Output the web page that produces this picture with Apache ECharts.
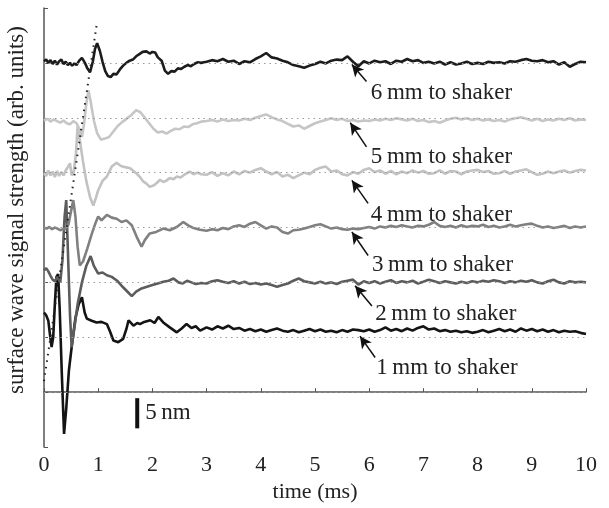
<!DOCTYPE html>
<html>
<head>
<meta charset="utf-8">
<script src="https://cdn.jsdelivr.net/npm/echarts@6/dist/echarts.min.js"></script>
<style>
  html, body { margin: 0; padding: 0; background: #fff; }
  #chart { width: 609px; height: 508px; }
</style>
</head>
<body>
<div id="chart"></div>
<script>
// trace names, vertical offsets (arb. units) and colours
const traceNames = ['1', '2', '3', '4', '5', '6']
const baselines = [1, 2, 3, 4, 5, 6]
const traceColors = ['#141414', '#5c5c5c', '#808080', '#c2c2c2', '#c6c6c6', '#1c1c1c']

// early part of each trace, [time ms, signal relative to its baseline]
const early1 = [[0,0.45],[0.04,0.4],[0.08,0.3],[0.11,0.05],[0.14,-0.18],[0.17,0.0],[0.2,0.6],[0.23,1.1],[0.26,1.15],[0.29,0.5],[0.33,-0.7],[0.37,-1.76],[0.41,-1.3],[0.46,-0.6],[0.52,-0.1],[0.58,0.35],[0.64,0.6],[0.7,0.73],[0.75,0.45],[0.79,0.34],[0.88,0.3],[0.97,0.27],[1.06,0.28],[1.16,0.24],[1.22,0.1],[1.28,-0.06],[1.37,-0.09],[1.46,-0.03],[1.52,0.15],[1.56,0.31],[1.65,0.21],[1.72,0.26],[1.77,0.24],[1.85,0.28],[1.96,0.31],[2.04,0.26],[2.11,0.37],[2.2,0.27],[2.32,0.18],[2.45,0.09],[2.54,0.16],[2.63,0.24],[2.72,0.17],[2.8,0.2],[2.88,0.12]]
const early2 = [[0,0.22],[0.04,0.26],[0.08,0.2],[0.12,0.12],[0.16,0.05],[0.2,0.02],[0.25,0.1],[0.3,0.0],[0.34,0.4],[0.38,1.2],[0.41,1.5],[0.44,0.6],[0.48,-0.6],[0.51,-1.18],[0.55,-0.9],[0.62,-0.4],[0.7,0.0],[0.78,0.3],[0.86,0.48],[0.92,0.3],[1.0,0.16],[1.08,0.18],[1.16,0.13],[1.25,0.1],[1.35,0.03],[1.45,-0.08],[1.55,-0.18],[1.62,-0.25],[1.7,-0.17],[1.8,-0.11],[1.9,-0.08],[2.0,-0.05],[2.1,-0.02],[2.2,0.01],[2.3,0.03],[2.39,0.07],[2.48,0.0],[2.56,-0.02],[2.64,0.03],[2.72,0.0],[2.8,-0.03],[2.9,-0.01]]
const early3 = [[0,0.0],[0.05,-0.02],[0.1,0.01],[0.15,-0.03],[0.2,0.0],[0.25,-0.02],[0.3,-0.05],[0.35,-0.03],[0.4,-0.02],[0.45,0.05],[0.5,0.3],[0.54,0.5],[0.58,0.2],[0.62,-0.35],[0.66,-0.69],[0.72,-0.62],[0.8,-0.38],[0.88,-0.12],[0.95,0.08],[1.0,0.2],[1.06,0.13],[1.16,0.23],[1.25,0.18],[1.34,0.16],[1.43,0.1],[1.52,0.13],[1.62,0.04],[1.71,-0.17],[1.8,-0.35],[1.86,-0.23],[1.95,-0.11],[2.07,-0.08],[2.2,-0.02],[2.32,-0.05],[2.45,0.01],[2.57,0.1],[2.66,0.04],[2.76,-0.01],[2.88,-0.04]]
const early4 = [[0,-0.01],[0.04,-0.06],[0.08,0.04],[0.12,-0.05],[0.16,0.02],[0.2,-0.08],[0.24,0.03],[0.28,-0.06],[0.32,0.01],[0.36,-0.05],[0.4,0.04],[0.44,0.1],[0.48,0.17],[0.51,-0.05],[0.55,0.02],[0.59,0.35],[0.62,0.85],[0.66,0.6],[0.72,0.2],[0.78,-0.15],[0.85,-0.45],[0.91,-0.6],[0.96,-0.45],[1.0,-0.32],[1.08,-0.15],[1.16,-0.07],[1.25,0.11],[1.34,0.18],[1.42,0.12],[1.5,0.1],[1.59,0.08],[1.7,-0.01],[1.77,-0.08],[1.83,-0.16],[1.89,-0.2],[1.95,-0.26],[2.03,-0.23],[2.09,-0.18],[2.14,-0.13],[2.2,-0.17],[2.25,-0.15],[2.32,-0.1],[2.39,-0.12],[2.45,-0.07],[2.52,-0.09],[2.6,-0.03],[2.69,0.02],[2.76,-0.03],[2.83,0.0],[2.9,-0.03]]
const early5 = [[0,-0.05],[0.06,-0.02],[0.12,-0.07],[0.18,-0.03],[0.24,-0.06],[0.3,-0.09],[0.36,-0.05],[0.42,-0.1],[0.48,-0.12],[0.54,-0.06],[0.6,-0.1],[0.65,-0.2],[0.7,-0.35],[0.74,-0.1],[0.78,0.25],[0.82,0.5],[0.86,0.3],[0.92,-0.05],[0.98,-0.28],[1.05,-0.4],[1.12,-0.38],[1.2,-0.35],[1.28,-0.25],[1.36,-0.15],[1.44,-0.08],[1.52,-0.02],[1.6,0.04],[1.7,0.14],[1.78,0.1],[1.86,0.0],[1.94,-0.1],[2.02,-0.2],[2.1,-0.27],[2.18,-0.25],[2.26,-0.29],[2.34,-0.24],[2.42,-0.2],[2.5,-0.21],[2.58,-0.16],[2.66,-0.17],[2.74,-0.12],[2.82,-0.1],[2.9,-0.07]]
const early6 = [[0,0.03],[0.04,0.06],[0.08,0.0],[0.12,0.05],[0.16,-0.02],[0.2,0.04],[0.24,-0.03],[0.28,0.03],[0.32,0.06],[0.36,-0.02],[0.4,0.02],[0.44,-0.04],[0.48,0.0],[0.52,-0.05],[0.56,-0.01],[0.6,-0.04],[0.65,0.04],[0.7,0.09],[0.75,0.01],[0.8,-0.1],[0.85,-0.17],[0.9,0.02],[0.94,0.25],[0.98,0.36],[1.03,0.22],[1.08,0.02],[1.13,-0.15],[1.18,-0.24],[1.23,-0.26],[1.28,-0.2],[1.34,-0.21],[1.4,-0.12],[1.46,-0.05],[1.52,0.0],[1.58,0.04],[1.64,0.06],[1.7,0.12],[1.76,0.16],[1.82,0.2],[1.89,0.21],[1.95,0.17],[2.0,0.2],[2.05,0.19],[2.1,0.1],[2.17,0.04],[2.23,-0.14],[2.29,-0.2],[2.35,-0.15],[2.41,-0.16],[2.47,-0.1],[2.53,-0.11],[2.59,-0.07],[2.65,-0.04],[2.71,-0.06],[2.77,-0.02],[2.83,0.01],[2.9,0.0]]

// later part, one value every 0.1 ms from 3.0 to 10.0 ms
const late1 = [0.18,0.14,0.2,0.16,0.21,0.15,0.17,0.12,0.15,0.11,
  0.14,0.1,0.13,0.16,0.12,0.1,0.13,0.09,0.12,0.15,
  0.11,0.14,0.1,0.12,0.09,0.13,0.1,0.14,0.13,0.11,
  0.14,0.1,0.13,0.18,0.12,0.15,0.11,0.16,0.12,0.17,
  0.2,0.14,0.16,0.11,0.13,0.1,0.12,0.09,0.11,0.08,
  0.1,0.13,0.09,0.12,0.15,0.11,0.14,0.1,0.16,0.12,
  0.15,0.11,0.14,0.1,0.13,0.09,0.12,0.1,0.11,0.08,
  0.06]
const late2 = [-0.02,0.02,0.04,0.01,-0.01,0.02,-0.02,0.01,-0.03,-0.01,
  -0.04,-0.02,-0.05,-0.08,-0.05,-0.02,0.03,0.07,0.02,0.0,
  -0.02,0.01,-0.02,0.0,-0.03,0.01,0.03,0.05,-0.04,0.02,
  -0.01,0.02,-0.02,0.01,0.04,-0.01,0.02,0.0,0.03,-0.02,
  0.01,0.05,0.02,-0.01,0.02,0.0,-0.02,0.01,-0.01,0.02,
  0.0,0.03,0.01,0.04,0.02,-0.01,0.02,0.0,0.03,0.01,
  0.04,0.0,-0.02,0.02,0.05,0.0,-0.02,0.02,0.0,0.01,
  0.0]
const late3 = [-0.06,-0.03,-0.05,-0.01,-0.03,0.02,0.04,0.01,0.07,0.1,
  0.04,-0.02,0.02,0.0,-0.08,-0.11,-0.05,-0.04,-0.02,0.01,
  0.04,0.06,0.02,-0.02,0.0,-0.03,-0.04,-0.02,-0.03,-0.01,
  0.01,-0.02,0.02,0.0,0.03,0.01,0.04,0.02,0.0,0.03,
  0.02,0.05,0.1,0.03,0.01,0.03,0.0,0.04,0.01,0.03,
  0.02,0.05,0.01,0.03,0.0,0.02,0.05,0.02,0.04,0.06,
  0.07,0.03,0.0,0.02,-0.01,0.01,0.03,-0.01,0.02,0.0,
  0.02]
const late4 = [-0.04,0.01,-0.06,-0.01,-0.05,0.02,-0.03,0.03,0.0,0.05,
  0.08,0.02,-0.03,0.01,-0.07,-0.04,-0.1,-0.05,0.0,-0.03,
  0.05,0.09,0.11,0.02,0.04,-0.03,-0.05,0.01,-0.02,0.05,
  0.08,0.01,0.04,-0.02,0.03,-0.03,0.02,-0.01,0.04,0.0,
  0.03,-0.02,-0.01,0.04,-0.02,0.03,0.02,-0.03,0.02,0.04,
  0.05,0.01,0.03,-0.02,-0.01,0.03,-0.02,0.02,0.04,0.06,
  0.01,-0.04,-0.02,0.02,-0.01,0.02,0.04,0.0,0.03,0.05,
  0.04]
const late5 = [-0.06,-0.04,-0.07,-0.03,-0.06,-0.04,-0.05,-0.02,-0.04,0.0,
  0.03,0.06,0.01,-0.03,-0.06,-0.11,-0.16,-0.14,-0.2,-0.15,
  -0.1,-0.07,-0.04,-0.01,-0.04,-0.02,-0.06,-0.04,-0.07,-0.05,
  -0.06,-0.03,-0.05,-0.02,-0.04,-0.01,-0.03,-0.05,-0.02,-0.06,
  -0.04,-0.08,-0.06,-0.09,-0.05,-0.02,0.0,-0.03,-0.01,-0.04,
  -0.02,-0.05,-0.03,-0.06,-0.04,-0.07,-0.03,-0.01,0.01,-0.02,
  -0.05,-0.02,-0.06,-0.03,-0.05,-0.02,-0.04,-0.01,-0.05,-0.03,
  -0.04]
const late6 = [0.02,0.05,0.03,0.07,0.02,0.04,-0.02,0.03,0.01,0.07,
  0.12,0.18,0.1,0.08,0.04,0.01,-0.04,-0.06,-0.09,-0.05,
  -0.02,0.02,-0.01,0.04,0.06,0.05,0.12,0.02,-0.06,0.03,
  -0.01,0.04,0.01,0.03,-0.02,0.04,0.02,0.07,0.03,0.05,
  0.0,0.02,-0.01,0.02,-0.03,0.01,-0.03,-0.01,0.02,-0.02,
  0.0,-0.02,0.02,0.0,0.01,-0.01,0.03,0.02,0.05,0.07,
  0.04,0.03,0.05,0.01,0.03,-0.03,0.01,-0.07,-0.02,0.02,
  0.01]

// dotted arrival line and 5 nm scale bar
const arrivalLine = [[0, 0.2], [0.98, 6.75]]
const scaleBarTime = 1.72
const scaleBarRange = [-0.11, -0.66]

// arrows [tail, head] and label anchors for the annotations
const arrowTails = [[6.11, 0.63], [6.05, 1.57], [5.98, 2.49], [5.98, 3.44], [5.95, 4.47], [5.95, 5.66]]
const arrowHeads = [[5.83, 1.02], [5.74, 1.94], [5.68, 2.92], [5.68, 3.86], [5.65, 4.91], [5.68, 5.97]]
const labelAnchors = [[6.13, 0.44], [6.11, 1.43], [6.05, 2.31], [6.03, 3.22], [6.03, 4.28], [6.03, 5.46]]

const lateTimes = []
for (let i = 0; i <= 70; i++) lateTimes.push(+(3 + i * 0.1).toFixed(1))

const earlyAll = [early1, early2, early3, early4, early5, early6]
const lateAll = [late1, late2, late3, late4, late5, late6]

const serif = '"Liberation Serif", "DejaVu Serif", serif'

const traceSeries = traceNames.map((name, i) => {
    const base = baselines[i]
    const pts = earlyAll[i].map(([t, v]) => [t, base + v])
    lateTimes.forEach((t, k) => pts.push([t, base + lateAll[i][k]]))
    return {
        name: name + ' mm',
        type: 'line',
        data: pts,
        showSymbol: false,
        z: 3,
        lineStyle: { color: traceColors[i], width: 2.6 },
        itemStyle: { color: traceColors[i] }
    }
})

const chart = echarts.init(document.getElementById('chart'), null, { renderer: 'canvas' })

const option = {
    animation: false,
    backgroundColor: '#fff',
    grid: { left: 44, right: 23, top: 8, bottom: 61 },
    xAxis: {
        type: 'value', min: 0, max: 10, interval: 1,
        name: 'time (ms)', nameLocation: 'middle', nameGap: 34,
        nameTextStyle: { fontFamily: serif, fontSize: 22, color: '#222' },
        axisLine: { lineStyle: { color: '#555', width: 1.5 } },
        axisTick: { inside: true, length: 4, lineStyle: { color: '#555' } },
        axisLabel: { fontFamily: serif, fontSize: 22, color: '#222', margin: 7 },
        splitLine: { show: false }
    },
    yAxis: {
        type: 'value', min: -1, max: 7, interval: 1,
        axisLine: { show: true, lineStyle: { color: '#555', width: 1.5 } },
        axisTick: { inside: true, length: 4, lineStyle: { color: '#555' } },
        axisLabel: { show: false },
        splitLine: { show: false }
    },
    series: [
        {
            name: 'baselines',
            type: 'line',
            data: [],
            z: 1,
            markLine: {
                silent: true,
                symbol: ['none', 'none'],
                label: { show: false },
                lineStyle: { color: '#9a9a9a', width: 1.2, type: [1.5, 4] },
                data: [0].concat(baselines).map(v => ({ yAxis: v }))
            }
        },
        ...traceSeries,
        {
            name: 'arrival',
            type: 'line',
            data: arrivalLine,
            showSymbol: false,
            z: 4,
            lineStyle: { color: '#222', width: 2, type: [1.5, 5] }
        },
        {
            name: 'scale',
            type: 'line',
            data: scaleBarRange.map(v => [scaleBarTime, v]),
            showSymbol: false,
            z: 4,
            lineStyle: { color: '#111', width: 4 }
        },
        {
            name: 'arrows',
            type: 'line',
            data: [],
            z: 5,
            markLine: {
                silent: true,
                symbol: ['none', 'arrow'],
                symbolSize: [9, 12],
                label: { show: false },
                lineStyle: { color: '#111', width: 1.5, type: 'solid' },
                data: arrowTails.map((tail, i) => [{ coord: tail }, { coord: arrowHeads[i] }])
            }
        }
    ]
}
chart.setOption(option)

// texts placed from data coordinates
const graphics = labelAnchors.map((p, i) => {
    const [x, y] = chart.convertToPixel({ gridIndex: 0 }, p)
    return {
        type: 'text', x: x, y: y, z: 10,
        style: {
            text: traceNames[i] + '\u2009mm to shaker',
            font: '23px ' + serif, fill: '#222',
            textAlign: 'left', textVerticalAlign: 'middle'
        }
    }
})
const barPx = chart.convertToPixel({ gridIndex: 0 }, [scaleBarTime, (scaleBarRange[0] + scaleBarRange[1]) / 2])
graphics.push({
    type: 'text', x: barPx[0] + 8, y: barPx[1], z: 10,
    style: { text: '5\u2009nm', font: '23px ' + serif, fill: '#222', textAlign: 'left', textVerticalAlign: 'middle' }
})
graphics.push({
    type: 'text', x: 17, y: 210, rotation: Math.PI / 2, z: 10,
    style: {
        text: 'surface wave signal strength (arb. units)',
        font: '23px ' + serif, fill: '#222',
        textAlign: 'center', textVerticalAlign: 'middle'
    }
})
chart.setOption({ graphic: graphics })
</script>
</body>
</html>
